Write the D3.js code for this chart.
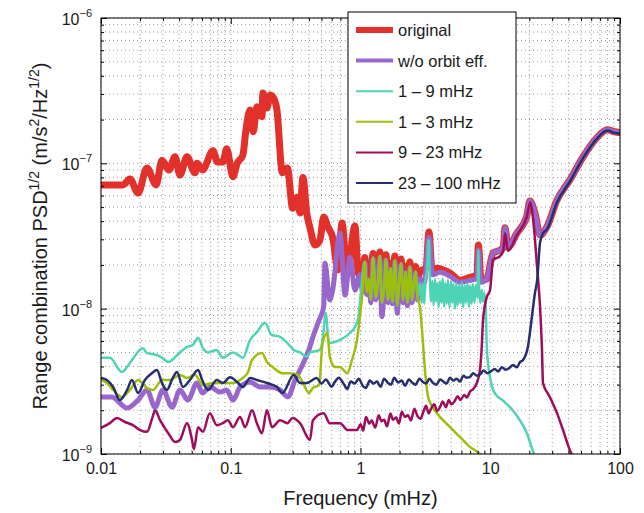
<!DOCTYPE html>
<html>
<head>
<meta charset="utf-8">
<script src="https://cdn.jsdelivr.net/npm/d3@7"></script>
<style>
  body { margin: 0; background: #fff; }
  text { font-family: "Liberation Sans", Arial, sans-serif; fill: #1a1a1a; }
</style>
</head>
<body>
<div id="chart"></div>
<script>
// values: [frequency (mHz), PSD^1/2 (m/s^2/Hz^1/2)]
const original = [[0.01,7.1e-8],[0.0148,7.1e-8],[0.0167,7.8e-8],[0.0193,6.25e-8],[0.0226,9.3e-8],[0.0266,7.1e-8],[0.0295,1.05e-7],[0.0334,9.0e-8],[0.0372,1.11e-7],[0.0406,8.3e-8],[0.046,1.11e-7],[0.053,8.6e-8],[0.055,1.0e-7],[0.0605,9.0e-8],[0.073,1.22e-7],[0.079,1.02e-7],[0.087,1.02e-7],[0.093,1.26e-7],[0.104,8.1e-8],[0.112,1.0e-7],[0.124,1.14e-7],[0.131,1.7e-7],[0.141,2.33e-7],[0.149,1.65e-7],[0.159,2.45e-7],[0.174,2.1e-7],[0.177,3.05e-7],[0.19,2.4e-7],[0.201,2.95e-7],[0.212,2.85e-7],[0.227,2.33e-7],[0.25,8.6e-8],[0.273,9.3e-8],[0.30,4.9e-8],[0.325,5.85e-8],[0.342,4.55e-8],[0.36,8.0e-8],[0.385,4.55e-8],[0.408,3.6e-8],[0.446,2.74e-8],[0.487,2.97e-8],[0.52,4.27e-8],[0.56,3.65e-8],[0.61,3.1e-8],[0.67,1.85e-8],[0.72,3.88e-8],[0.79,1.76e-8],[0.906,3.7e-8],[0.96,1.76e-8],[1.04,1.6e-8],[1.08,2.25e-8],[1.12,1.55e-8],[1.16,1.7e-8],[1.2,1.5e-8],[1.25,2.4e-8],[1.31,1.5e-8],[1.36,1.65e-8],[1.41,2.45e-8],[1.46,1.5e-8],[1.52,1.55e-8],[1.57,2.35e-8],[1.63,1.5e-8],[1.7,2.05e-8],[1.76,1.5e-8],[1.84,2.3e-8],[1.92,1.5e-8],[1.98,1.6e-8],[2.05,2.2e-8],[2.13,1.5e-8],[2.22,1.95e-8],[2.3,1.5e-8],[2.4,2.1e-8],[2.5,1.55e-8],[2.58,1.65e-8],[2.66,1.95e-8],[2.75,1.6e-8],[2.87,1.8e-8],[3.2,1.9e-8],[3.37,3.37e-8],[3.56,1.85e-8],[3.9,1.9e-8],[4.3,1.85e-8],[4.9,1.76e-8],[5.84,1.57e-8],[6.98,1.64e-8],[7.9,1.71e-8],[8.1,2.74e-8],[8.5,1.57e-8],[9.4,1.6e-8],[10.5,2.42e-8],[11.9,2.53e-8],[12.6,2.64e-8],[13.0,3.6e-8],[13.7,2.64e-8],[16.0,3.3e-8],[19.1,4.3e-8],[20.2,5.5e-8],[22.1,4.55e-8],[24.2,3.21e-8],[27.3,3.65e-8],[32.7,5.59e-8],[41.1,7.69e-8],[52,1.11e-7],[66,1.49e-7],[80,1.7e-7],[91,1.65e-7],[100,1.63e-7]];

const noOrbit = [[0.01,2.47e-9],[0.0121,2.47e-9],[0.0159,2.07e-9],[0.0193,2.35e-9],[0.0226,2.76e-9],[0.0261,2.1e-9],[0.030,2.76e-9],[0.0353,2.1e-9],[0.0406,2.76e-9],[0.0467,2.35e-9],[0.055,3.08e-9],[0.0605,2.63e-9],[0.069,2.89e-9],[0.083,2.67e-9],[0.093,2.76e-9],[0.104,2.35e-9],[0.118,2.89e-9],[0.141,3.13e-9],[0.168,2.89e-9],[0.201,2.89e-9],[0.24,2.76e-9],[0.276,2.47e-9],[0.313,3.23e-9],[0.35,3.95e-9],[0.40,5.2e-9],[0.44,6.8e-9],[0.48,8.36e-9],[0.52,1.03e-8],[0.532,2.05e-8],[0.58,1.15e-8],[0.61,1.34e-8],[0.695,3.3e-8],[0.76,1.24e-8],[0.83,2.27e-8],[0.906,1.34e-8],[0.99,1.71e-8],[1.04,1.3e-8],[1.08,2.05e-8],[1.12,1.25e-8],[1.16,1.55e-8],[1.2,1.1e-8],[1.25,2.2e-8],[1.31,1.15e-8],[1.36,1.45e-8],[1.41,2.25e-8],[1.46,8.8e-9],[1.52,1.3e-8],[1.57,2.15e-8],[1.63,1.1e-8],[1.7,1.85e-8],[1.76,1.08e-8],[1.84,2.1e-8],[1.92,9.3e-9],[1.98,1.4e-8],[2.05,2.0e-8],[2.13,1.1e-8],[2.22,1.75e-8],[2.3,1.05e-8],[2.4,1.9e-8],[2.5,1.1e-8],[2.58,1.45e-8],[2.66,1.75e-8],[2.75,1.15e-8],[2.9,1.6e-8],[3.1,1.5e-8],[3.37,3.1e-8],[3.6,1.71e-8],[4.1,1.78e-8],[4.9,1.67e-8],[5.84,1.52e-8],[6.98,1.57e-8],[7.9,1.6e-8],[8.1,2.53e-8],[8.5,1.52e-8],[9.4,1.6e-8],[10.5,2.42e-8],[11.9,2.53e-8],[12.6,2.64e-8],[13.0,3.6e-8],[13.7,2.64e-8],[16.0,3.3e-8],[19.1,4.3e-8],[20.2,5.5e-8],[22.1,4.55e-8],[24.2,3.21e-8],[27.3,3.65e-8],[32.7,5.59e-8],[41.1,7.69e-8],[52,1.11e-7],[66,1.49e-7],[80,1.7e-7],[91,1.65e-7],[100,1.63e-7]];

const band1to9 = [[0.01,4.6e-9],[0.0117,4.6e-9],[0.0145,3.67e-9],[0.0167,4.23e-9],[0.021,5.35e-9],[0.0226,4.95e-9],[0.027,4.8e-9],[0.0295,4.6e-9],[0.033,4.3e-9],[0.0406,5.0e-9],[0.046,5.45e-9],[0.051,5.62e-9],[0.056,6.3e-9],[0.061,5.35e-9],[0.067,5.0e-9],[0.078,5.2e-9],[0.087,4.6e-9],[0.104,5.0e-9],[0.124,4.6e-9],[0.141,6.1e-9],[0.159,6.9e-9],[0.184,8.0e-9],[0.206,6.6e-9],[0.24,6.4e-9],[0.273,5.8e-9],[0.306,5.2e-9],[0.342,5.0e-9],[0.385,4.66e-9],[0.408,5.0e-9],[0.487,5.2e-9],[0.51,6.1e-9],[0.54,9.3e-9],[0.57,5.8e-9],[0.695,6.1e-9],[0.83,6.8e-9],[0.906,7.5e-9],[0.96,8.6e-9],[1.01,1.34e-8],[1.08,2.1e-8],[1.12,1.3e-8],[1.16,1.6e-8],[1.2,1.15e-8],[1.25,2.25e-8],[1.31,1.2e-8],[1.36,1.5e-8],[1.41,2.3e-8],[1.46,1.1e-8],[1.52,1.35e-8],[1.57,2.2e-8],[1.63,1.15e-8],[1.7,1.9e-8],[1.76,1.12e-8],[1.84,2.15e-8],[1.92,1.05e-8],[1.98,1.45e-8],[2.05,2.05e-8],[2.13,1.15e-8],[2.22,1.8e-8],[2.3,1.1e-8],[2.4,1.95e-8],[2.5,1.15e-8],[2.58,1.5e-8],[2.66,1.8e-8],[2.75,1.2e-8],[2.87,1.5e-8],[2.95,1.1e-8],[3.02,1.5e-8],[3.1,1.08e-8],[3.17,1.6e-8],[3.25,1.85e-8],[3.33,2.9e-8],[3.37,2.97e-8],[3.43,1.6e-8],[3.5,1.12e-8],[3.58,1.55e-8],[3.66,1.05e-8],[3.75,1.6e-8],[3.83,1.12e-8],[3.92,1.5e-8],[4.0,1.02e-8],[4.1,1.55e-8],[4.2,1.1e-8],[4.3,1.62e-8],[4.4,1.03e-8],[4.5,1.5e-8],[4.62,1.08e-8],[4.72,1.58e-8],[4.85,1.02e-8],[4.98,1.55e-8],[5.1,1.1e-8],[5.22,1.48e-8],[5.35,1.0e-8],[5.48,1.5e-8],[5.6,1.05e-8],[5.75,1.45e-8],[5.9,1.08e-8],[6.05,1.52e-8],[6.2,1.02e-8],[6.35,1.45e-8],[6.5,1.1e-8],[6.68,1.5e-8],[6.85,1.03e-8],[7.0,1.45e-8],[7.18,1.08e-8],[7.35,1.48e-8],[7.55,1.1e-8],[7.75,1.45e-8],[7.95,1.2e-8],[8.1,2.53e-8],[8.22,1.3e-8],[8.4,1.1e-8],[8.6,1.35e-8],[8.8,1.12e-8],[9.0,1.28e-8],[9.25,9.8e-9],[9.4,5.45e-9],[9.96,3.37e-9],[10.9,2.6e-9],[12.4,2.35e-9],[14.9,2.0e-9],[16.9,1.71e-9],[19.1,1.4e-9],[21.7,1.0e-9],[22.5,9.1e-10]];

const band1to3 = [[0.01,3.23e-9],[0.0111,3.08e-9],[0.0124,2.76e-9],[0.0145,2.47e-9],[0.0167,2.76e-9],[0.0193,3.23e-9],[0.0226,2.85e-9],[0.0252,2.76e-9],[0.0295,3.23e-9],[0.034,3.23e-9],[0.0406,3.5e-9],[0.046,3.34e-9],[0.053,3.5e-9],[0.061,2.98e-9],[0.073,3.08e-9],[0.087,3.08e-9],[0.104,3.08e-9],[0.124,3.34e-9],[0.136,3.67e-9],[0.146,4.44e-9],[0.174,4.95e-9],[0.19,4.3e-9],[0.21,3.97e-9],[0.25,3.6e-9],[0.286,3.6e-9],[0.33,3.5e-9],[0.36,3.08e-9],[0.40,2.63e-9],[0.43,2.85e-9],[0.48,2.98e-9],[0.51,5.8e-9],[0.555,6.8e-9],[0.58,4.66e-9],[0.636,3.97e-9],[0.695,3.97e-9],[0.79,3.6e-9],[0.86,4.44e-9],[0.94,6.1e-9],[0.99,8.8e-9],[1.04,1.34e-8],[1.08,2.1e-8],[1.12,1.3e-8],[1.16,1.6e-8],[1.2,1.15e-8],[1.25,2.25e-8],[1.31,1.2e-8],[1.36,1.5e-8],[1.41,2.3e-8],[1.46,1.1e-8],[1.52,1.35e-8],[1.57,2.2e-8],[1.63,1.15e-8],[1.7,1.9e-8],[1.76,1.12e-8],[1.84,2.15e-8],[1.92,1.05e-8],[1.98,1.45e-8],[2.05,2.05e-8],[2.13,1.15e-8],[2.22,1.8e-8],[2.3,1.1e-8],[2.4,1.95e-8],[2.5,1.15e-8],[2.58,1.5e-8],[2.66,1.8e-8],[2.75,1.2e-8],[2.87,1.02e-8],[2.98,7.1e-9],[3.14,3.78e-9],[3.32,2.47e-9],[3.6,2.1e-9],[4.1,1.8e-9],[4.9,1.53e-9],[5.84,1.31e-9],[6.98,1.12e-9],[8.33,1.0e-9],[9.1,9.1e-10]];

const band9to23 = [[0.01,1.51e-9],[0.0117,1.63e-9],[0.0133,1.77e-9],[0.0153,1.66e-9],[0.0176,1.58e-9],[0.020,1.46e-9],[0.0226,1.42e-9],[0.025,1.8e-9],[0.0261,2.0e-9],[0.0285,1.71e-9],[0.033,1.39e-9],[0.0372,1.21e-9],[0.0406,1.25e-9],[0.046,1.63e-9],[0.0503,1.25e-9],[0.052,1.08e-9],[0.056,1.53e-9],[0.061,1.42e-9],[0.069,1.91e-9],[0.078,1.58e-9],[0.087,1.63e-9],[0.095,1.71e-9],[0.104,1.53e-9],[0.118,1.8e-9],[0.129,1.53e-9],[0.146,2.0e-9],[0.159,1.63e-9],[0.174,1.39e-9],[0.19,2.0e-9],[0.208,1.53e-9],[0.24,1.71e-9],[0.273,1.63e-9],[0.30,1.77e-9],[0.342,1.63e-9],[0.408,1.25e-9],[0.43,1.71e-9],[0.52,1.91e-9],[0.58,1.63e-9],[0.695,1.63e-9],[0.8,1.46e-9],[0.94,1.46e-9],[1.0,1.6e-9],[1.05,1.45e-9],[1.1,1.8e-9],[1.17,1.62e-9],[1.22,1.7e-9],[1.3,1.52e-9],[1.38,1.85e-9],[1.45,1.68e-9],[1.52,1.72e-9],[1.6,1.55e-9],[1.7,1.9e-9],[1.78,1.72e-9],[1.88,1.78e-9],[1.98,1.62e-9],[2.08,1.95e-9],[2.2,1.8e-9],[2.32,1.85e-9],[2.45,1.7e-9],[2.6,2.05e-9],[2.75,1.82e-9],[2.9,1.75e-9],[3.05,1.95e-9],[3.2,2.15e-9],[3.35,1.9e-9],[3.5,2.05e-9],[3.7,2.2e-9],[3.9,1.98e-9],[4.1,2.1e-9],[4.3,2.3e-9],[4.55,2.1e-9],[4.8,2.35e-9],[5.0,2.2e-9],[5.3,2.3e-9],[5.6,2.5e-9],[5.9,2.35e-9],[6.3,2.55e-9],[6.6,2.45e-9],[7.0,2.7e-9],[7.4,2.8e-9],[7.9,3.1e-9],[8.33,3.78e-9],[8.6,5.45e-9],[8.8,8.36e-9],[9.4,1.2e-8],[9.96,1.34e-8],[10.5,2.16e-8],[11.9,2.3e-8],[12.6,2.5e-8],[13.0,3.3e-8],[13.7,2.5e-8],[16.0,3.2e-8],[19.1,4.27e-8],[20.4,5.4e-8],[21.3,4.27e-8],[23.0,1.9e-8],[24.2,1.02e-8],[25,5.45e-9],[25.5,3.08e-9],[28.8,2.47e-9],[32.7,1.91e-9],[36.4,1.46e-9],[41.1,1.06e-9],[43,9.7e-10]];

const band23to100 = [[0.01,3.34e-9],[0.0111,3.23e-9],[0.0124,2.89e-9],[0.014,2.35e-9],[0.0159,2.76e-9],[0.0173,3.23e-9],[0.0193,2.63e-9],[0.0218,3.23e-9],[0.0247,3.6e-9],[0.027,3.78e-9],[0.0295,3.08e-9],[0.0322,2.76e-9],[0.0359,3.37e-9],[0.0385,3.67e-9],[0.0428,2.89e-9],[0.0485,3.23e-9],[0.056,3.78e-9],[0.0602,3.23e-9],[0.067,2.76e-9],[0.078,3.23e-9],[0.087,3.08e-9],[0.0987,3.37e-9],[0.112,3.13e-9],[0.124,2.89e-9],[0.141,3.34e-9],[0.159,3.23e-9],[0.19,3.08e-9],[0.227,2.89e-9],[0.25,2.63e-9],[0.306,3.5e-9],[0.342,3.08e-9],[0.385,3.08e-9],[0.46,3.34e-9],[0.5,3.05e-9],[0.54,3.25e-9],[0.6,2.9e-9],[0.63,3.1e-9],[0.68,3.35e-9],[0.74,3.05e-9],[0.79,2.8e-9],[0.84,3.15e-9],[0.9,3.05e-9],[0.97,3.3e-9],[1.04,2.95e-9],[1.1,2.85e-9],[1.18,3.2e-9],[1.26,3.05e-9],[1.34,3.15e-9],[1.43,2.9e-9],[1.52,3.3e-9],[1.62,3.1e-9],[1.72,3.0e-9],[1.82,3.35e-9],[1.95,3.1e-9],[2.08,3.2e-9],[2.2,2.95e-9],[2.36,3.25e-9],[2.5,3.1e-9],[2.65,3.0e-9],[2.85,3.3e-9],[3.0,3.15e-9],[3.2,3.05e-9],[3.4,3.3e-9],[3.6,3.1e-9],[3.85,3.0e-9],[4.1,3.25e-9],[4.35,3.15e-9],[4.6,3.05e-9],[4.9,3.35e-9],[5.2,3.2e-9],[5.5,3.3e-9],[5.85,3.15e-9],[6.2,3.45e-9],[6.6,3.35e-9],[7.0,3.4e-9],[7.4,3.6e-9],[7.9,3.45e-9],[8.4,3.55e-9],[8.9,3.75e-9],[9.5,3.6e-9],[10.1,3.7e-9],[10.8,3.85e-9],[11.5,3.7e-9],[12.3,3.95e-9],[13.2,3.8e-9],[14.0,3.9e-9],[15.0,4.1e-9],[16.0,3.95e-9],[17.0,4.3e-9],[17.9,4.44e-9],[19.5,5.45e-9],[20.8,8.36e-9],[22.1,1.28e-8],[23.0,1.57e-8],[24.2,2.85e-8],[25.5,3.3e-8],[27.3,3.5e-8],[32.7,5.4e-8],[41.1,7.5e-8],[52,1.09e-7],[66,1.47e-7],[80,1.68e-7],[91,1.62e-7],[100,1.6e-7]];

const seriesNames = ["original", "w/o orbit eff.", "1 \u2013 9 mHz", "1 \u2013 3 mHz", "9 \u2013 23 mHz", "23 \u2013 100 mHz"];
const seriesColors = ["#e2302a", "#9966cc", "#4fd3b5", "#9dbf0c", "#9e0d5a", "#272e6e"];
const xTicks = [0.01, 0.1, 1, 10, 100];
const xTickLabels = ["0.01", "0.1", "1", "10", "100"];
const yTicks = [1e-9, 1e-8, 1e-7, 1e-6];
const yTickExps = ["\u22129", "\u22128", "\u22127", "\u22126"];

const allSeries = [original, noOrbit, band1to9, band1to3, band9to23, band23to100];
const lineWidths = [7, 5, 2.5, 2.5, 2.5, 2.5];
const legendWidths = [6, 4, 2, 2, 2, 2];

const margin = {top: 18, right: 24, bottom: 59, left: 101},
      width = 644 - margin.left - margin.right,
      height = 513 - margin.top - margin.bottom;

const x = d3.scaleLog().domain([0.01, 100]).range([0, width]);
const y = d3.scaleLog().domain([1e-9, 1e-6]).range([height, 0]);

const svg = d3.select('#chart').append('svg')
  .attr('width', 644)
  .attr('height', 513);

const chart = svg.append('g')
  .attr('transform', `translate(${margin.left},${margin.top})`);

chart.append('clipPath').attr('id', 'clip')
  .append('rect').attr('width', width).attr('height', height);

// dotted grid on every decade subdivision
const xGrid = x.ticks();
const yGrid = y.ticks();
chart.append('g').selectAll('line')
  .data(xGrid)
  .enter().append('line')
    .attr('x1', d => x(d)).attr('x2', d => x(d))
    .attr('y1', 0).attr('y2', height)
    .attr('stroke', '#9a9a9a').attr('stroke-width', 1)
    .attr('stroke-dasharray', '1,3');
chart.append('g').selectAll('line')
  .data(yGrid)
  .enter().append('line')
    .attr('y1', d => y(d)).attr('y2', d => y(d))
    .attr('x1', 0).attr('x2', width)
    .attr('stroke', '#9a9a9a').attr('stroke-width', 1)
    .attr('stroke-dasharray', '1,3');

// curves
const line = d3.line()
  .curve(d3.curveMonotoneX)
  .x(d => x(d[0]))
  .y(d => y(d[1]));

const plot = chart.append('g').attr('clip-path', 'url(#clip)');
allSeries.forEach((data, i) => {
  plot.append('path')
    .datum(data)
    .attr('d', line)
    .attr('fill', 'none')
    .attr('stroke', seriesColors[i])
    .attr('stroke-width', lineWidths[i])
    .attr('stroke-linejoin', 'round')
    .attr('stroke-linecap', 'round');
});

// axes: ticks point inwards on all four sides
const minorX = xGrid.filter(d => !xTicks.includes(d));
const minorY = yGrid.filter(d => !yTicks.some(t => Math.abs(t - d) / t < 1e-6));

function styleAxis(sel) {
  sel.select('.domain').remove();
  sel.selectAll('line').attr('stroke', '#000');
}

chart.append('g')
  .attr('transform', `translate(0,${height})`)
  .call(d3.axisBottom(x).tickValues(xTicks).tickFormat((d, i) => xTickLabels[i]).tickSize(-6).tickPadding(9))
  .call(styleAxis)
  .call(g => g.selectAll('text').attr('font-size', 16).attr('fill', '#1a1a1a').attr('font-family', '"Liberation Sans", Arial, sans-serif'));
chart.append('g')
  .attr('transform', `translate(0,${height})`)
  .call(d3.axisBottom(x).tickValues(minorX).tickFormat('').tickSize(-3))
  .call(styleAxis);
chart.append('g')
  .call(d3.axisTop(x).tickValues(xTicks).tickFormat('').tickSize(-6))
  .call(styleAxis);
chart.append('g')
  .call(d3.axisTop(x).tickValues(minorX).tickFormat('').tickSize(-3))
  .call(styleAxis);

chart.append('g')
  .call(d3.axisLeft(y).tickValues(yTicks).tickFormat('').tickSize(-6))
  .call(styleAxis);
chart.append('g')
  .call(d3.axisLeft(y).tickValues(minorY).tickFormat('').tickSize(-3))
  .call(styleAxis);
chart.append('g')
  .attr('transform', `translate(${width},0)`)
  .call(d3.axisRight(y).tickValues(yTicks).tickFormat('').tickSize(-6))
  .call(styleAxis);
chart.append('g')
  .attr('transform', `translate(${width},0)`)
  .call(d3.axisRight(y).tickValues(minorY).tickFormat('').tickSize(-3))
  .call(styleAxis);

// 10^n labels
const yLab = chart.append('g').selectAll('text')
  .data(yTicks)
  .enter().append('text')
    .attr('x', -9)
    .attr('y', d => y(d) + 7)
    .attr('text-anchor', 'end')
    .attr('font-size', 16);
yLab.append('tspan').text('10');
yLab.append('tspan').attr('dy', -8).attr('font-size', 11).text((d, i) => yTickExps[i]);

// frame
chart.append('rect')
  .attr('width', width).attr('height', height)
  .attr('fill', 'none').attr('stroke', '#000').attr('stroke-width', 1);

// axis titles
chart.append('text')
  .attr('x', width / 2)
  .attr('y', height + 51)
  .attr('text-anchor', 'middle')
  .attr('font-size', 20)
  .text('Frequency (mHz)');

const yTitle = chart.append('text')
  .attr('transform', `translate(${-54},${height / 2}) rotate(-90)`)
  .attr('text-anchor', 'middle')
  .attr('font-size', 20);
yTitle.append('tspan').text('Range combination PSD');
yTitle.append('tspan').attr('dy', -8).attr('font-size', 14).text('1/2');
yTitle.append('tspan').attr('dy', 8).text(' (m/s');
yTitle.append('tspan').attr('dy', -8).attr('font-size', 14).text('2');
yTitle.append('tspan').attr('dy', 8).text('/Hz');
yTitle.append('tspan').attr('dy', -8).attr('font-size', 14).text('1/2');
yTitle.append('tspan').attr('dy', 8).text(')');

// legend
const legend = chart.append('g')
  .attr('transform', `translate(247,-6)`);
legend.append('rect')
  .attr('width', 168).attr('height', 191)
  .attr('fill', '#fff').attr('stroke', '#000').attr('stroke-width', 1);
const entry = legend.selectAll('g.entry')
  .data(seriesNames)
  .enter().append('g')
    .attr('transform', (d, i) => `translate(0,${18 + i * 30.6})`);
entry.append('line')
  .attr('x1', 8).attr('x2', 45)
  .attr('stroke', (d, i) => seriesColors[i])
  .attr('stroke-width', (d, i) => legendWidths[i]);
entry.append('text')
  .attr('x', 50).attr('y', 6)
  .attr('font-size', 16.5)
  .text(d => d);
</script>
</body>
</html>
